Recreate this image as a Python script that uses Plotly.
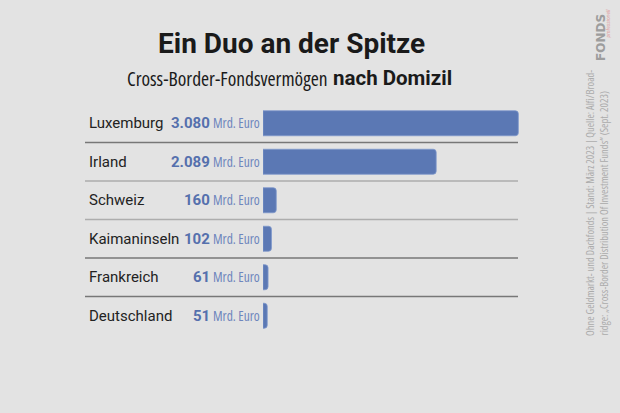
import plotly.graph_objects as go

countries = ["Luxemburg", "Irland", "Schweiz", "Kaimaninseln", "Frankreich", "Deutschland"]
values = [3080, 2089, 160, 102, 61, 51]
unit = "Mrd. Euro"
title = "Ein Duo an der Spitze"
subtitle_a = "Cross-Border-Fondsvermögen"
subtitle_b = "nach Domizil"
note1 = "Ohne Geldmarkt- und Dachfonds | Stand: März 2023 | Quelle: Alfi/Broad-"
note2 = "ridge: „Cross-Border Distribution Of Investment Funds“ (Sept. 2023)"

W, H = 620, 413
ML, MR, MT, MB = 263, 100, 104, 78
BG = "#e3e3e3"
BAR = "#5b78b4"
NUM = "#5570ad"
UNITC = "#6e86bd"
NARROW = "Open Sans"
MAIN = "Roboto, Lato, sans-serif"

def fmt(v):
    return f"{v:,}".replace(",", ".")

def px_x(px):
    return (px - ML) / (W - ML - MR)

def px_y(py):
    return (H - MB - py) / (H - MT - MB)

def cond(t):
    return f"<span style='font-stretch:condensed'>{t}</span>"

fig = go.Figure()
fig.add_trace(go.Bar(
    x=values, y=countries, orientation="h",
    marker=dict(color=BAR, cornerradius=3, line=dict(color="#7f98cc", width=0.8)),
    width=0.65, hoverinfo="skip",
))

annotations = []
for c, v in zip(countries, values):
    annotations.append(dict(
        x=px_x(87), xref="paper", y=c, yref="y",
        text=c, showarrow=False, xanchor="left", yanchor="middle",
        font=dict(family=MAIN, size=15, color="#222222"),
    ))
    annotations.append(dict(
        x=px_x(212), xref="paper", y=c, yref="y",
        text=f"<b>{fmt(v)}</b>",
        showarrow=False, xanchor="right", yanchor="middle",
        font=dict(family=MAIN, size=15, color=NUM),
    ))
    annotations.append(dict(
        x=px_x(211), xref="paper", y=c, yref="y",
        text=cond(unit),
        showarrow=False, xanchor="left", yanchor="middle",
        font=dict(family=NARROW, size=13.5, color=UNITC),
    ))

annotations.append(dict(
    x=px_x(291), xref="paper", y=px_y(44), yref="paper",
    text=f"<b>{title}</b>", showarrow=False, xanchor="center", yanchor="middle",
    font=dict(family=MAIN, size=28, color="#1a1a1a"),
))
annotations.append(dict(
    x=px_x(330), xref="paper", y=px_y(78), yref="paper",
    text=cond(subtitle_a), showarrow=False, xanchor="right", yanchor="middle",
    font=dict(family=NARROW, size=19.5, color="#1a1a1a"),
))
annotations.append(dict(
    x=px_x(331), xref="paper", y=px_y(78), yref="paper",
    text=f"<b>{subtitle_b}</b>", showarrow=False, xanchor="left", yanchor="middle",
    font=dict(family=MAIN, size=20.5, color="#1a1a1a"),
))
for xpx, txt in [(590, note1), (603, note2)]:
    annotations.append(dict(
        x=px_x(xpx), xref="paper", y=px_y(338), yref="paper",
        text=cond(txt), textangle=-90, showarrow=False,
        xanchor="center", yanchor="bottom",
        font=dict(family=NARROW, size=10.5, color="#ababab"),
    ))
annotations.append(dict(
    x=px_x(601), xref="paper", y=px_y(38), yref="paper",
    text="<b>FONDS</b>", textangle=-90, showarrow=False,
    xanchor="center", yanchor="middle",
    font=dict(family="DejaVu Sans, sans-serif", size=12, color="#9d9d9d"),
))
annotations.append(dict(
    x=px_x(607.5), xref="paper", y=px_y(24), yref="paper",
    text="<i>professionell</i>", textangle=-90, showarrow=False,
    xanchor="center", yanchor="middle",
    font=dict(family=MAIN, size=5, color="#e0a0a0"),
))

shapes = []
line_colors = ["#777777", "#adadad", "#adadad", "#777777", "#777777"]
for i, col in enumerate(line_colors):
    shapes.append(dict(
        type="line", xref="paper", yref="y",
        x0=px_x(85), x1=px_x(518),
        y0=i + 0.5, y1=i + 0.5,
        line=dict(color=col, width=1.5),
    ))

fig.update_layout(
    width=W, height=H,
    margin=dict(l=ML, r=MR, t=MT, b=MB),
    paper_bgcolor=BG, plot_bgcolor=BG,
    showlegend=False,
    xaxis=dict(range=[0, 3100], visible=False, fixedrange=True),
    yaxis=dict(categoryorder="array", categoryarray=countries,
               range=[len(countries) - 0.5, -0.5], visible=False, fixedrange=True),
    annotations=annotations, shapes=shapes,
    bargap=0.35,
)

fig.write_html("out.html", config={"displayModeBar": False})
